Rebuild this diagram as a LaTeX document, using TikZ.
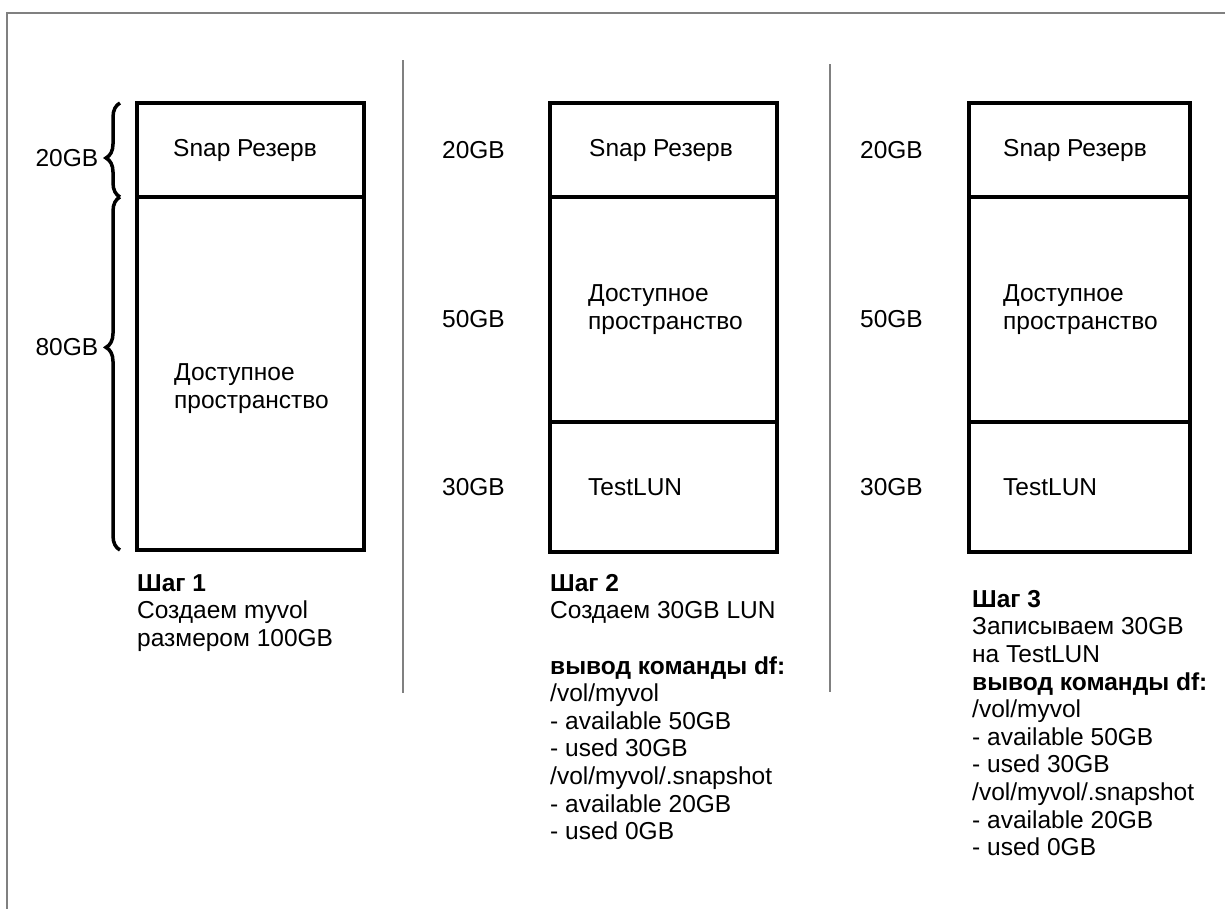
\documentclass[tikz,border=0pt]{standalone}
\usepackage{fontspec}
\setmainfont{Liberation Sans}
\usetikzlibrary{positioning, decorations.pathreplacing}

\begin{document}
\begin{tikzpicture}[x=1pt, y=-1pt,
    seg/.style={draw, line width=3.5pt, minimum width=227pt, inner sep=0pt, outer sep=0pt},
    txt/.style={inner sep=0pt, font=\fontsize{24.5}{27.6}\selectfont, align=left},
    sizelbl/.style={inner sep=0pt, font=\fontsize{24.5}{27.6}\selectfont},
    brc/.style={decorate, decoration={brace, amplitude=14pt, aspect=#1}, line width=3.5pt},
    sepline/.style={draw=black!50, line width=2pt},
    frameline/.style={draw=black!50, line width=2.5pt},
]
\useasboundingbox (0,0) rectangle (1225,908);

% frame and separators
\coordinate (frameBL) at (7,915);
\coordinate (frameTR) at (1235,13);
\draw[frameline] (frameBL) |- (frameTR);
\coordinate (sepAtop) at (403,60);
\coordinate (sepAbot) at (403,693);
\coordinate (sepBtop) at (830,64);
\coordinate (sepBbot) at (830,692);
\draw[sepline] (sepAtop) -- (sepAbot);
\draw[sepline] (sepBtop) -- (sepBbot);

% step 1
\node[seg, minimum height=94pt, anchor=north west] (snapA) at (137,103) {};
\node[seg, minimum height=353pt, below=0pt of snapA] (freeA) {};
\node[txt, right=36pt of snapA.west] (snapAtxt) {Snap Резерв};
\node[txt, right=37pt of freeA.west, yshift=-15pt] (freeAtxt) {Доступное\\пространство};
\draw[brc=0.415] ([xshift=-17pt]snapA.south west) -- ([xshift=-17pt]snapA.north west)
    node[sizelbl, pos=0.415, left=20pt] (sizeAsnap) {20GB};
\draw[brc=0.574] ([xshift=-17pt]freeA.south west) -- ([xshift=-17pt]freeA.north west)
    node[sizelbl, pos=0.574, left=20pt] (sizeAfree) {80GB};
\node[txt, below=24pt of freeA.south west, anchor=north west] (stepA)
    {\textbf{Шаг 1}\\Создаем myvol\\размером 100GB};

% step 2
\node[seg, minimum height=94pt, anchor=north west] (snapB) at (550,103) {};
\node[seg, minimum height=225pt, below=0pt of snapB] (freeB) {};
\node[seg, minimum height=130pt, below=0pt of freeB] (lunB) {};
\node[txt, right=39pt of snapB.west] (snapBtxt) {Snap Резерв};
\node[txt, right=38pt of freeB.west] (freeBtxt) {Доступное\\пространство};
\node[txt, right=38pt of lunB.west] (lunBtxt) {TestLUN};
\node[sizelbl, left=45pt of snapB] (sizeBsnap) {20GB};
\node[sizelbl, left=45pt of freeB, yshift=-10pt] (sizeBfree) {50GB};
\node[sizelbl, left=45pt of lunB] (sizeBlun) {30GB};
\node[txt, below=22pt of lunB.south west, anchor=north west] (stepB)
    {\textbf{Шаг 2}\\Создаем 30GB LUN\\[27.6pt]\textbf{вывод команды df:}\\/vol/myvol\\- available 50GB\\- used 30GB\\/vol/myvol/.snapshot\\- available 20GB\\- used 0GB};

% step 3
\node[seg, minimum width=221pt, minimum height=94pt, anchor=north west] (snapC) at (969,103) {};
\node[seg, minimum width=221pt, minimum height=225pt, below=0pt of snapC] (freeC) {};
\node[seg, minimum width=221pt, minimum height=130pt, below=0pt of freeC] (lunC) {};
\node[txt, right=34pt of snapC.west] (snapCtxt) {Snap Резерв};
\node[txt, right=34pt of freeC.west] (freeCtxt) {Доступное\\пространство};
\node[txt, right=34pt of lunC.west] (lunCtxt) {TestLUN};
\node[sizelbl, left=46pt of snapC] (sizeCsnap) {20GB};
\node[sizelbl, left=46pt of freeC, yshift=-10pt] (sizeCfree) {50GB};
\node[sizelbl, left=46pt of lunC] (sizeClun) {30GB};
\node[txt, below=38pt of lunC.south west, anchor=north west, xshift=3pt] (stepC)
    {\textbf{Шаг 3}\\Записываем 30GB\\на TestLUN\\\textbf{вывод команды df:}\\/vol/myvol\\- available 50GB\\- used 30GB\\/vol/myvol/.snapshot\\- available 20GB\\- used 0GB};
\end{tikzpicture}
\end{document}
